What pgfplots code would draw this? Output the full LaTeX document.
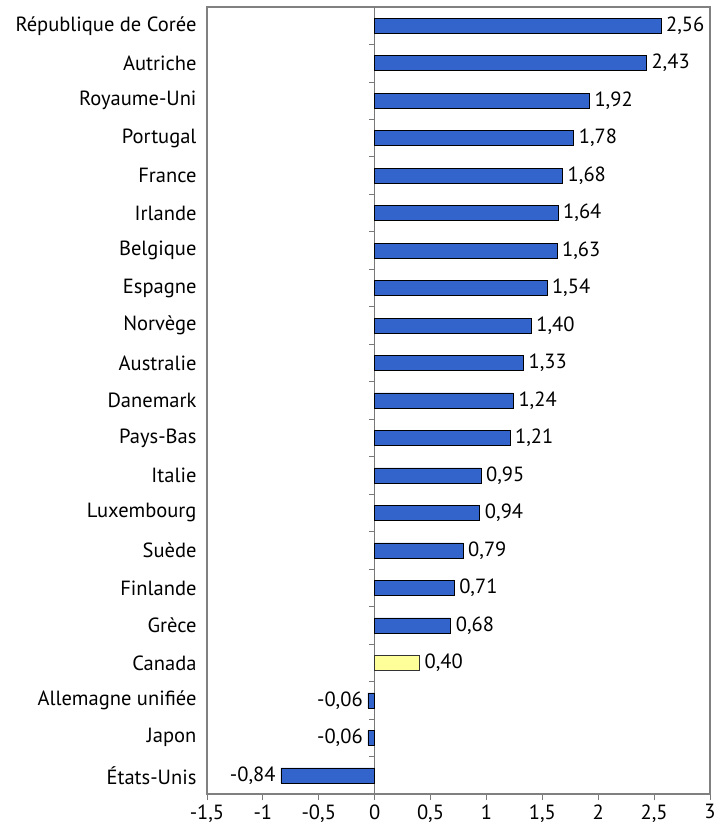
\documentclass[border=0pt]{standalone}
\usepackage{pgfplots}
\pgfplotsset{compat=1.18}
\usepackage{fontspec}
\setmainfont{PT Sans}
\definecolor{barblue}{RGB}{51,100,204}
\definecolor{baryellow}{RGB}{255,255,153}
\definecolor{framegray}{RGB}{120,120,120}
\definecolor{borderline}{RGB}{128,128,128}

\pgfplotstableread{
y  v
0  -0.84
1  -0.06
2  -0.06
4  0.68
5  0.71
6  0.79
7  0.94
8  0.95
9  1.21
10 1.24
11 1.33
12 1.40
13 1.54
14 1.63
15 1.64
16 1.68
17 1.78
18 1.92
19 2.43
20 2.56
}\others
\pgfplotstableread{
y  v
3  0.40
}\canada

\begin{document}
\begin{tikzpicture}
\begin{axis}[
  scale only axis,
  width=503bp, height=787bp,
  xmin=-1.5, xmax=3,
  ymin=-0.5, ymax=20.5,
  xbar, bar width=15bp, bar shift=0pt,
  axis line style={borderline, line width=2.4pt},
  xtick={-1.5,-1,...,3},
  xtick pos=bottom, xtick align=outside,
  major tick length=6bp,
  every tick/.style={framegray, line width=0.8pt},
  ytick={0,...,20},
  yticklabels={États-Unis,Japon,Allemagne unifiée,Canada,Grèce,Finlande,Suède,Luxembourg,Italie,Pays-Bas,Danemark,Australie,Norvège,Espagne,Belgique,Irlande,France,Portugal,Royaume-Uni,Autriche,République de Corée},
  ytick style={draw=none},
  yticklabel style={font=\fontsize{20.6}{22}\selectfont, xshift=-1bp},
  xticklabel style={font=\fontsize{20.6}{22}\selectfont, yshift=-1bp},
  /pgf/number format/assume math mode=true,
  /pgf/number format/use comma,
  nodes near coords,
  nodes near coords align=horizontal,
  every node near coord/.append style={font=\fontsize{20.6}{22}\selectfont, inner xsep=5bp,
    /pgf/number format/.cd, fixed, fixed zerofill, precision=2, use comma, assume math mode=true},
  clip=false,
]
% zero line with small ticks between categories
\draw[framegray, line width=0.8pt] (axis cs:0,-0.5) -- (axis cs:0,20.5);
\pgfplotsinvokeforeach{0,...,19}{
  \draw[framegray, line width=0.8pt] (axis cs:0,#1+0.5) -- ++(-6bp,0bp);
}
\addplot[fill=barblue, draw=black, line width=0.5pt] table[x=v, y=y] {\others};
\addplot[fill=baryellow, draw=black!80, line width=0.5pt] table[x=v, y=y] {\canada};
\coordinate (bl) at (rel axis cs:0,0);
\coordinate (tr) at (rel axis cs:1,1);
\end{axis}
\useasboundingbox ([xshift=-207bp,yshift=-35bp]bl) rectangle ([xshift=11bp,yshift=7bp]tr);
\end{tikzpicture}
\end{document}
